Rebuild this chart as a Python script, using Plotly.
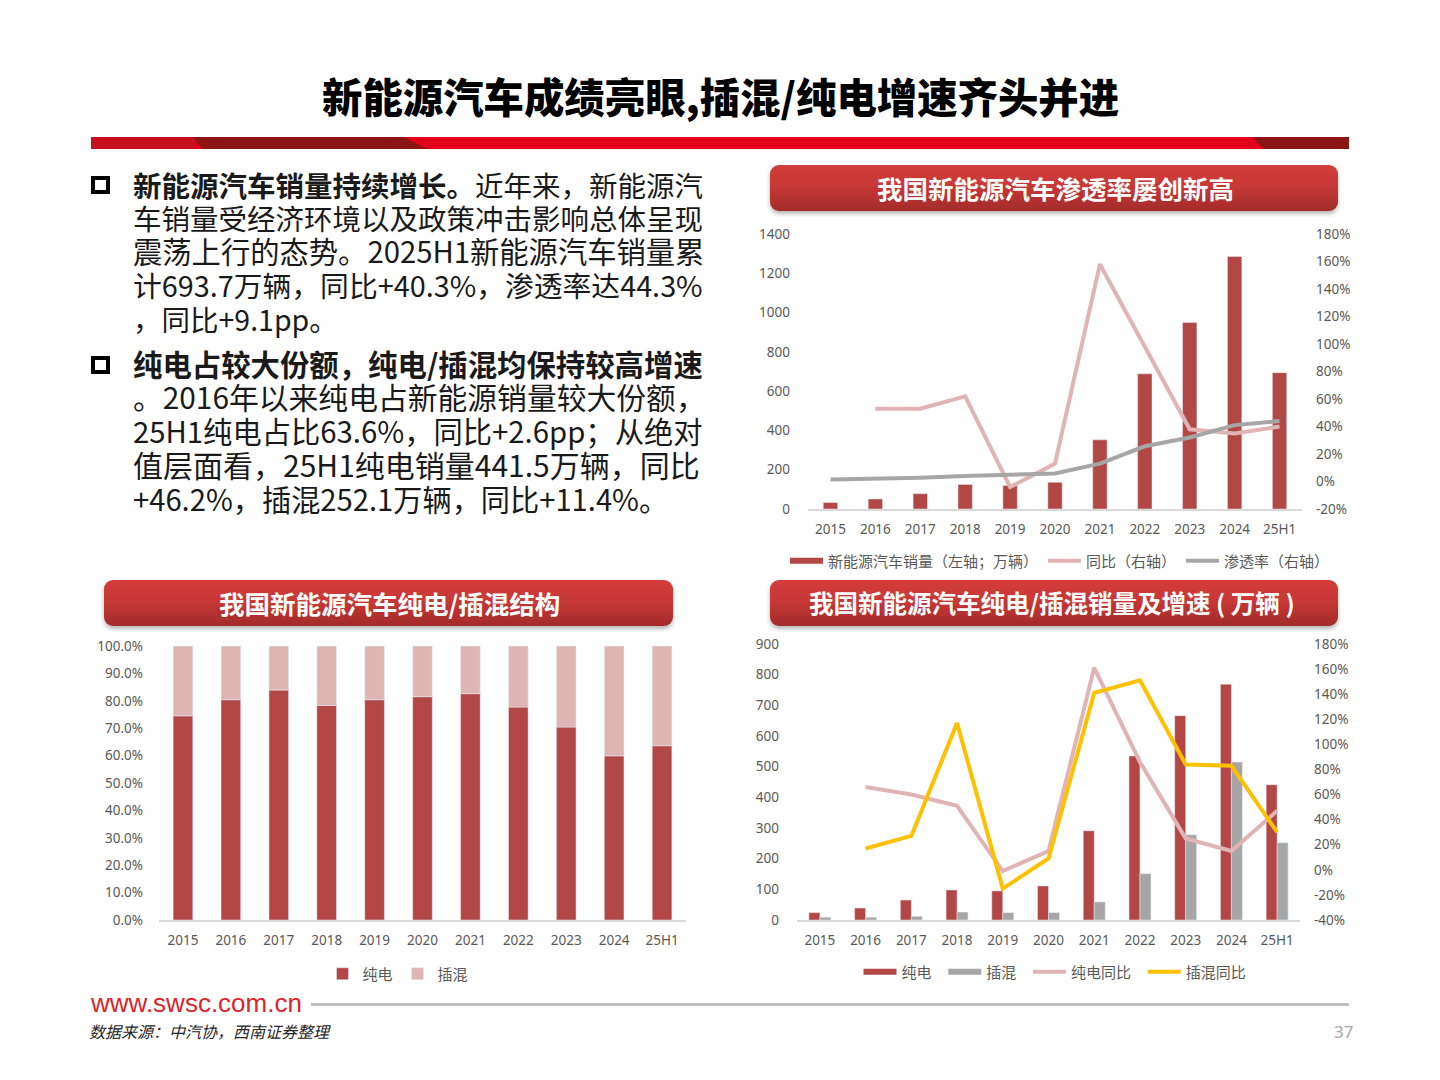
import base64
import plotly.graph_objects as go

# categories
years = ['2015', '2016', '2017', '2018', '2019', '2020', '2021', '2022', '2023', '2024', '25H1']

# top right chart: sales, yoy, penetration
nev_sales = [33, 51, 78, 125, 120, 136, 352, 688, 949, 1286, 694]
nev_yoy = [None, 53, 53, 62, -4, 13, 158, 98, 38, 35, 40]
nev_penetration = [1.4, 2, 2.7, 4, 4.7, 5.8, 13, 25.6, 32, 41, 44]

# bottom right chart: BEV / PHEV sales and yoy
bev_sales = [24, 39, 65, 98, 95, 111, 291, 535, 666, 769, 441]
phev_sales = [9, 9, 12, 26, 24, 24, 59, 151, 278, 515, 252]
bev_yoy = [None, 66, 60, 51, -1, 15, 161, 86, 25, 15, 47]
phev_yoy = [None, 17, 27, 117, -15, 9, 141, 151, 84, 83, 30]

# bottom left chart: share
bev_share = [74.5, 80.4, 83.9, 78.3, 80.4, 81.5, 82.6, 77.7, 70.4, 59.9, 63.6]
phev_share = [25.5, 19.6, 16.1, 21.7, 19.6, 18.5, 17.4, 22.3, 29.6, 40.1, 36.4]

# right axis ticks, written out so the minus stays a plain hyphen
pct_ticks_1 = [-20, 0, 20, 40, 60, 80, 100, 120, 140, 160, 180]
pct_labels_1 = ['-20%', '0%', '20%', '40%', '60%', '80%', '100%', '120%', '140%', '160%', '180%']
pct_ticks_2 = [-40] + pct_ticks_1
pct_labels_2 = ['-40%'] + pct_labels_1

title_text = '新能源汽车成绩亮眼,插混/纯电增速齐头并进'
body_lines = [
    '<b>新能源汽车销量持续增长。</b>近年来，新能源汽',
    '车销量受经济环境以及政策冲击影响总体呈现',
    '震荡上行的态势。2025H1新能源汽车销量累',
    '计693.7万辆，同比+40.3%，渗透率达44.3%',
    '，同比+9.1pp。',
    '<b>纯电占较大份额，纯电/插混均保持较高增速</b>',
    '。2016年以来纯电占新能源销量较大份额，',
    '25H1纯电占比63.6%，同比+2.6pp；从绝对',
    '值层面看，25H1纯电销量441.5万辆，同比',
    '+46.2%，插混252.1万辆，同比+11.4%。',
]
body_y = [184, 217, 250, 284, 318, 363, 396, 430, 464, 498]
# the original text is justified, plotly can't do that so size each line to the same right edge
body_size = [28.5, 28.5, 29.3, 28.8, 28.5, 29.4, 29.8, 29.3, 30, 29.2]

RED = '#B24745'
PINK = '#E0B4B4'
GRAY = '#A6A6A6'
YELLOW = '#FFC000'
TICK = '#595959'
CJK = 'Noto Sans CJK SC'
LATIN = 'Noto Sans'
NB = '\u00a0\u00a0'


def px(x):
    return x / 1440


def py(y):
    return 1 - y / 1080


fig = go.Figure()

# top right
fig.add_trace(go.Bar(x=years, y=nev_sales, marker_color=RED, width=0.32, showlegend=False, xaxis='x', yaxis='y'))
fig.add_trace(go.Scatter(x=[None], y=[None], mode='lines', line=dict(color=RED, width=6),
                         name='新能源汽车销量（左轴；万辆）', legend='legend', xaxis='x', yaxis='y'))
fig.add_trace(go.Scatter(x=years, y=nev_yoy, mode='lines', line=dict(color=PINK, width=4),
                         name='同比（右轴）', legend='legend', xaxis='x', yaxis='y2'))
fig.add_trace(go.Scatter(x=years, y=nev_penetration, mode='lines', line=dict(color=GRAY, width=4),
                         name='渗透率（右轴）', legend='legend', xaxis='x', yaxis='y2'))

# bottom right
fig.add_trace(go.Bar(x=years, y=bev_sales, marker_color=RED, width=0.24, offset=-0.24, showlegend=False, xaxis='x2', yaxis='y3'))
fig.add_trace(go.Bar(x=years, y=phev_sales, marker_color=GRAY, width=0.24, offset=0, showlegend=False, xaxis='x2', yaxis='y3'))
fig.add_trace(go.Scatter(x=[None], y=[None], mode='lines', line=dict(color=RED, width=6),
                         name='纯电' + NB, legend='legend2', xaxis='x2', yaxis='y3'))
fig.add_trace(go.Scatter(x=[None], y=[None], mode='lines', line=dict(color=GRAY, width=6),
                         name='插混' + NB, legend='legend2', xaxis='x2', yaxis='y3'))
fig.add_trace(go.Scatter(x=years, y=bev_yoy, mode='lines', line=dict(color=PINK, width=4),
                         name='纯电同比' + NB, legend='legend2', xaxis='x2', yaxis='y4'))
fig.add_trace(go.Scatter(x=years, y=phev_yoy, mode='lines', line=dict(color=YELLOW, width=4),
                         name='插混同比', legend='legend2', xaxis='x2', yaxis='y4'))

# bottom left
fig.add_trace(go.Bar(x=years, y=bev_share, marker_color=RED, width=0.41, name='纯电', legend='legend3', xaxis='x3', yaxis='y5'))
fig.add_trace(go.Bar(x=years, y=phev_share, base=bev_share, marker_color='#DFB5B4', width=0.41, name='插混', legend='legend3', xaxis='x3', yaxis='y5'))

tickfont = dict(family=LATIN, size=13.5, color=TICK)
xstyle = dict(type='category', showgrid=False, ticks='', showline=True, linecolor='#D9D9D9', linewidth=1.5,
              tickfont=tickfont, zeroline=False, fixedrange=True, ticklabelstandoff=7)
ystyle = dict(showgrid=False, zeroline=False, ticks='', showline=False, tickfont=tickfont, fixedrange=True)
legend_font = dict(family=CJK, size=15, color=TICK)

fig.update_layout(
    width=1440, height=1080, margin=dict(l=0, r=0, t=0, b=0, autoexpand=False),
    paper_bgcolor='white', plot_bgcolor='rgba(0,0,0,0)',
    barmode='overlay', hovermode=False,
    xaxis=dict(xstyle, domain=[px(808), px(1302)], anchor='y'),
    yaxis=dict(ystyle, domain=[py(509), py(234)], range=[0, 1400], dtick=200, anchor='x', ticklabelstandoff=17),
    yaxis2=dict(ystyle, domain=[py(509), py(234)], range=[-20, 180], tickvals=pct_ticks_1, ticktext=pct_labels_1,
                anchor='x', overlaying='y', side='right', ticklabelstandoff=13),
    xaxis2=dict(xstyle, domain=[px(797), px(1300)], anchor='y3'),
    yaxis3=dict(ystyle, domain=[py(920), py(644)], range=[0, 900], dtick=100, anchor='x2', ticklabelstandoff=17),
    yaxis4=dict(ystyle, domain=[py(920), py(644)], range=[-40, 180], tickvals=pct_ticks_2, ticktext=pct_labels_2,
                anchor='x2', overlaying='y3', side='right', ticklabelstandoff=13),
    xaxis3=dict(xstyle, domain=[px(159), px(686)], anchor='y5'),
    yaxis5=dict(ystyle, domain=[py(920), py(646)], range=[0, 100], dtick=10, tickformat='.1f', ticksuffix='%',
                anchor='x3', ticklabelstandoff=15),
    legend=dict(orientation='h', x=px(1060), y=py(561), xanchor='center', yanchor='middle', font=legend_font,
                bgcolor='rgba(0,0,0,0)', itemwidth=33),
    legend2=dict(orientation='h', x=px(1055), y=py(972), xanchor='center', yanchor='middle', font=legend_font,
                 bgcolor='rgba(0,0,0,0)', itemwidth=33),
    legend3=dict(orientation='h', x=px(398), y=py(974), xanchor='center', yanchor='middle',
                 font=dict(family=CJK, size=15, color=TICK), bgcolor='rgba(0,0,0,0)', itemwidth=30),
)


def banner_image(x0, y0, x1, y1):
    # gradient pill with soft shadow, as a small inline svg
    w, h = x1 - x0, y1 - y0
    svg = (f'<svg xmlns="http://www.w3.org/2000/svg" width="{w + 12}" height="{h + 12}">'
           '<defs><linearGradient id="g" x1="0" y1="0" x2="0" y2="1">'
           '<stop offset="0" stop-color="#D33D3B"/><stop offset="0.45" stop-color="#C73836"/>'
           '<stop offset="1" stop-color="#A32B2A"/></linearGradient>'
           '<filter id="b"><feGaussianBlur stdDeviation="2"/></filter></defs>'
           f'<rect x="6" y="9" width="{w}" height="{h}" rx="9" fill="#888" opacity="0.6" filter="url(#b)"/>'
           f'<rect x="6" y="6" width="{w}" height="{h}" rx="9" fill="url(#g)"/></svg>')
    src = 'data:image/svg+xml;base64,' + base64.b64encode(svg.encode()).decode()
    return dict(source=src, xref='paper', yref='paper', x=px(x0 - 6), y=py(y0 - 6), sizex=(w + 12) / 1440,
                sizey=(h + 12) / 1080, xanchor='left', yanchor='top', sizing='stretch', layer='below')


fig.update_layout(images=[banner_image(770, 165, 1338, 211),
                          banner_image(770, 580, 1338, 626),
                          banner_image(104, 580, 673, 626)])


def paper_rect(x0, y0, x1, y1, **kw):
    fig.add_shape(type='rect', xref='paper', yref='paper', x0=px(x0), x1=px(x1), y0=py(y1), y1=py(y0), **kw)


def paper_poly(points, color):
    path = 'M' + ' L'.join(f'{px(x)},{py(y)}' for x, y in points) + ' Z'
    fig.add_shape(type='path', xref='paper', yref='paper', fillcolor=color, line_width=0, path=path)


# header rule
paper_rect(91, 137, 1349, 149, fillcolor='#E2001A', line_width=0)
paper_rect(91, 137, 195, 149, fillcolor='#C9101F', line_width=0)
paper_poly([(193, 137), (404, 137), (427, 149), (202, 149)], '#8C1514')
paper_poly([(1252, 137), (1349, 137), (1349, 149), (1264, 149)], '#8C1514')

# bullets and footer rule
paper_rect(93, 178, 108, 192, fillcolor='white', line=dict(color='black', width=4))
paper_rect(93, 358, 108, 372, fillcolor='white', line=dict(color='black', width=4))
paper_rect(311, 1003, 1349, 1006, fillcolor='#BFBFBF', line_width=0)


def add_text(x, y, text, size, color='black', family=CJK, xanchor='left', **font_kw):
    fig.add_annotation(xref='paper', yref='paper', x=px(x), y=py(y), text=text, showarrow=False, xanchor=xanchor,
                       yanchor='middle', align=xanchor, font=dict(family=family, size=size, color=color, **font_kw))


add_text(720, 95, title_text, 40.4, xanchor='center', weight=900)
for line, y, size in zip(body_lines, body_y, body_size):
    add_text(131, y, line, size, color='#1A1A1A')

add_text(1055, 187, '我国新能源汽车渗透率屡创新高', 25.5, color='white', xanchor='center', weight=700)
add_text(1052, 602, '我国新能源汽车纯电/插混销量及增速 ( 万辆 )', 24.5, color='white', xanchor='center', weight=700)
add_text(389, 602, '我国新能源汽车纯电/插混结构', 25.5, color='white', xanchor='center', weight=700)

add_text(88, 1003, 'www.swsc.com.cn', 26, color='#D9252B', family='Liberation Sans')
add_text(87, 1031, '数据来源：中汽协，西南证券整理', 16, color='#262626', style='italic')
add_text(1355, 1031, '37', 17, color='#A6A6A6', family=LATIN, xanchor='right')

fig.write_html('out.html', config={'displayModeBar': False},
               post_script="document.body.style.margin='0';document.body.style.overflow='hidden';")
